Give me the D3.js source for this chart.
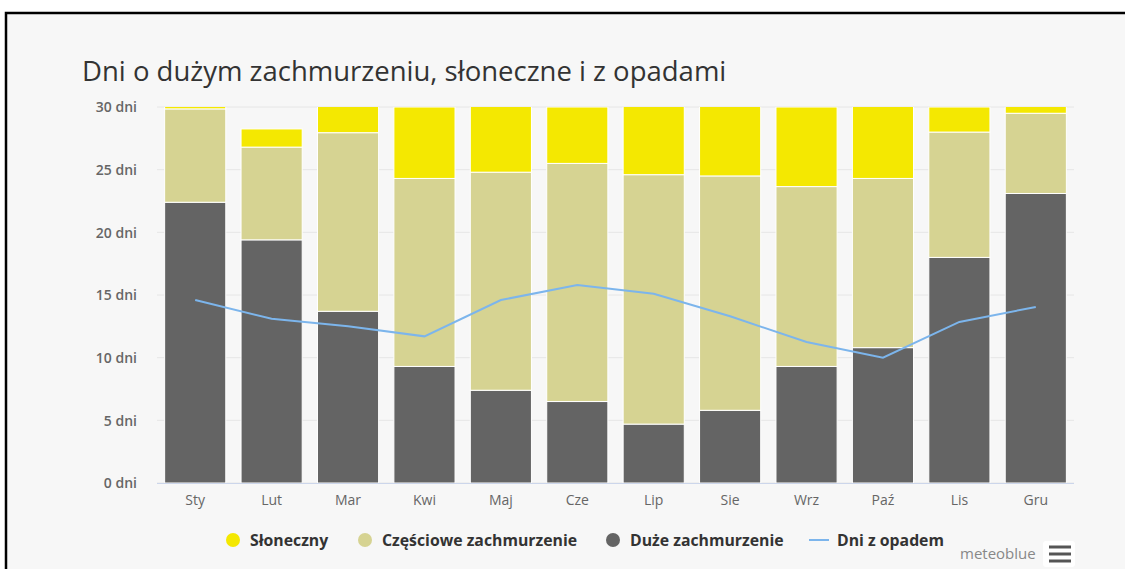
<!DOCTYPE html>
<html>
<head>
<meta charset="utf-8">
<script src="https://cdn.jsdelivr.net/npm/d3@7"></script>
<style>
  body { margin: 0; background: #fff; }
  svg { display: block; font-family: "Open Sans", sans-serif; }
</style>
</head>
<body>
<svg id="chart" width="1125" height="569"></svg>
<script>
var months = ['Sty', 'Lut', 'Mar', 'Kwi', 'Maj', 'Cze', 'Lip', 'Sie', 'Wrz', 'Paź', 'Lis', 'Gru']
// days per month (totals above 30 are clipped by the axis)
var duze = [22.4, 19.4, 13.7, 9.3, 7.4, 6.5, 4.7, 5.8, 9.3, 10.8, 18.0, 23.1]
var czesciowe = [7.45, 7.4, 14.25, 15.0, 17.4, 19.0, 19.9, 18.7, 14.35, 13.5, 10.0, 6.4]
var sloneczne = [1.15, 1.45, 3.05, 5.7, 6.2, 4.5, 6.4, 6.5, 6.35, 6.7, 2.0, 1.5]
var opady = [14.6, 13.1, 12.5, 11.7, 14.6, 15.8, 15.1, 13.3, 11.25, 10.0, 12.85, 14.05]
var yTicks = [0, 5, 10, 15, 20, 25, 30]

var colors = {duze: '#646464', czesciowe: '#d6d392', sloneczne: '#f4e801', opady: '#7cb5ec'}

var svg = d3.select('#chart')

// frame
svg.append('rect').attr('x', 6).attr('y', 13).attr('width', 1125).attr('height', 569)
  .attr('fill', '#f7f7f7').attr('stroke', '#000').attr('stroke-width', 2.5)

svg.append('text').attr('x', 82).attr('y', 81)
  .attr('font-size', 27.5).attr('fill', '#333')
  .text('Dni o dużym zachmurzeniu, słoneczne i z opadami')

var x = d3.scaleBand().domain(months).range([157, 1074]).paddingInner(0.2).paddingOuter(0.1)
var y = d3.scaleLinear().domain([0, 30]).range([483, 107])

// grid
svg.append('g').selectAll('line').data(yTicks).join('line')
  .attr('x1', 157).attr('x2', 1074)
  .attr('y1', d => y(d)).attr('y2', d => y(d))
  .attr('stroke', '#e6e6e6')

var yAxis = svg.append('g').attr('transform', 'translate(137,0)')
  .call(d3.axisLeft(y).tickValues(yTicks).tickSize(0).tickPadding(0).tickFormat(d => d + ' dni'))
yAxis.select('.domain').remove()
yAxis.selectAll('text').attr('font-size', 14).attr('font-weight', 600).attr('fill', '#666')
  .attr('font-family', '"Open Sans", sans-serif').attr('dy', '0.35em')

var table = months.map((m, i) => ({month: m, duze: duze[i], czesciowe: czesciowe[i], sloneczne: sloneczne[i]}))
var series = d3.stack().keys(['duze', 'czesciowe', 'sloneczne'])(table)

svg.append('clipPath').attr('id', 'plot')
  .append('rect').attr('x', 150).attr('y', y(30)).attr('width', 940).attr('height', y(0) - y(30))

svg.append('g').attr('clip-path', 'url(#plot)')
  .selectAll('g').data(series).join('g')
  .attr('fill', d => colors[d.key])
  .selectAll('rect').data(d => d).join('rect')
  .attr('x', d => x(d.data.month))
  .attr('width', x.bandwidth())
  .attr('y', d => y(d[1]))
  .attr('height', d => y(d[0]) - y(d[1]))
  .attr('stroke', '#fff').attr('stroke-width', 1)

// x axis
var xAxis = svg.append('g').attr('transform', 'translate(0,483)')
  .call(d3.axisBottom(x).tickSize(0).tickPadding(12))
xAxis.select('.domain').attr('stroke', '#ccd6eb').attr('d', 'M157,0.5H1074')
xAxis.selectAll('text').attr('font-size', 14).attr('fill', '#666')
  .attr('font-family', '"Open Sans", sans-serif')

var line = d3.line().x((d, i) => x(months[i]) + x.bandwidth() / 2).y(d => y(d))
svg.append('path').attr('d', line(opady))
  .attr('fill', 'none').attr('stroke', colors.opady).attr('stroke-width', 2)

// legend
var legend = [
  {label: 'Słoneczny', key: 'sloneczne', x: 233},
  {label: 'Częściowe zachmurzenie', key: 'czesciowe', x: 365},
  {label: 'Duże zachmurzenie', key: 'duze', x: 613},
  {label: 'Dni z opadem', key: 'opady', x: 819}
]
var lg = svg.append('g').selectAll('g').data(legend).join('g')
  .attr('transform', d => 'translate(' + d.x + ',540)')
lg.filter(d => d.key != 'opady').append('circle').attr('r', 7).attr('fill', d => colors[d.key])
lg.filter(d => d.key == 'opady').append('line').attr('x1', -10).attr('x2', 10)
  .attr('stroke', colors.opady).attr('stroke-width', 2)
lg.append('text').attr('x', d => d.key == 'opady' ? 18 : 17).attr('y', 5.5)
  .attr('font-size', 15.8).attr('font-weight', 700).attr('fill', '#333')
  .text(d => d.label)

svg.append('text').attr('x', 960).attr('y', 559)
  .attr('font-size', 15).attr('fill', '#888').text('meteoblue')
svg.append('rect').attr('x', 1043).attr('y', 541).attr('width', 32).attr('height', 26).attr('rx', 3)
  .attr('fill', '#fff')
svg.append('g').selectAll('line').data([547, 554, 561]).join('line')
  .attr('x1', 1049).attr('x2', 1071).attr('y1', d => d).attr('y2', d => d)
  .attr('stroke', '#555').attr('stroke-width', 3)
</script>
</body>
</html>
